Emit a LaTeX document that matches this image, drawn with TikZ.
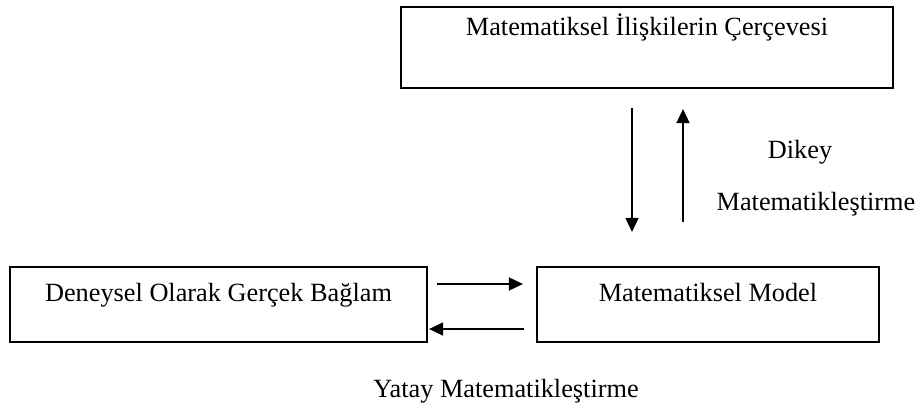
\documentclass[tikz,border=0pt]{standalone}
\usepackage{fontspec}
\setmainfont{Liberation Serif}
\usetikzlibrary{arrows.meta}
\begin{document}
\begin{tikzpicture}[x=1pt,y=-1pt,
  box/.style={draw, line width=2.2pt, inner xsep=0pt, inner ysep=0pt, anchor=base,
              font=\fontsize{26.3}{30}\selectfont},
  lbl/.style={anchor=base, inner sep=0pt, font=\fontsize{26.3}{30}\selectfont},
  arr/.style={line width=1.7pt, -{Triangle[length=14pt,width=13pt]}}]
\useasboundingbox (0,0) rectangle (920,407);
% boxes
\node[box, minimum width=492pt, text height=28pt, text depth=53pt] (frame) at (647,35)
  {Matematiksel İlişkilerin Çerçevesi};
\node[box, minimum width=417pt, text height=34pt, text depth=41pt] (ctx) at (218.5,301)
  {Deneysel Olarak Gerçek Bağlam};
\node[box, minimum width=342pt, text height=34pt, text depth=41pt] (model) at (708,301)
  {Matematiksel Model};
% labels
\node[lbl] (dikey) at (800,158) {Dikey};
\node[lbl] (dmat) at (816,210) {Matematikleştirme};
\node[lbl] (yatay) at (506,397) {Yatay Matematikleştirme};
% helper coordinates
\coordinate (dx) at (632,0);
\coordinate (ux) at (683,0);
\coordinate (ry) at (0,284);
\coordinate (ly) at (0,329);
% vertical arrows
\draw[arr, shorten <=19pt, shorten >=34pt] (dx |- frame.south) -- (dx |- model.north);
\draw[arr, shorten <=44pt, shorten >=20pt] (ux |- model.north) -- (ux |- frame.south);
% horizontal arrows
\draw[arr, shorten <=9pt, shorten >=13pt] (ctx.east |- ry) -- (model.west |- ry);
\draw[arr, shorten <=12pt, shorten >=1pt] (model.west |- ly) -- (ctx.east |- ly);
\end{tikzpicture}
\end{document}
